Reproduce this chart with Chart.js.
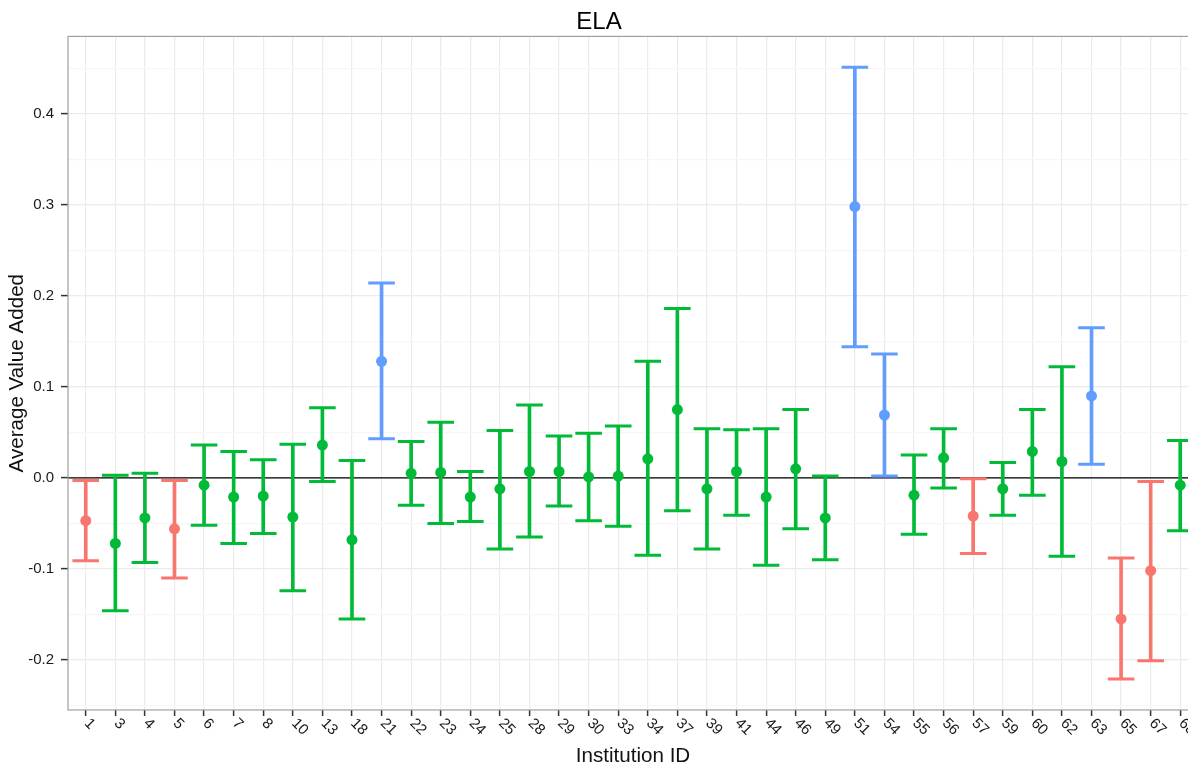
<!DOCTYPE html>
<html>
<head>
<meta charset="utf-8">
<title>ELA</title>
<script src="https://cdn.jsdelivr.net/npm/chart.js@4/dist/chart.umd.min.js"></script>
<style>
  html, body { margin: 0; padding: 0; background: #ffffff; overflow: hidden; }
  #wrap { position: relative; width: 1266px; height: 767px; }
</style>
</head>
<body>
<div id="wrap"><canvas id="c"></canvas></div>
<script>
// Institutions and their estimated value added with interval bounds
const institutionIds = ['1','3','4','5','6','7','8','10','13','18','21','22','23','24','25','28','29','30','33','34',
                        '37','39','41','44','46','49','51','54','55','56','57','59','60','62','63','65','67','68'];
const estimate   = [-0.047,-0.072,-0.044,-0.056,-0.008,-0.021,-0.020,-0.043, 0.036,-0.068,
                     0.128, 0.005, 0.006,-0.021,-0.012, 0.007, 0.007, 0.001, 0.002, 0.021,
                     0.075,-0.012, 0.007,-0.021, 0.010,-0.044, 0.298, 0.069,-0.019, 0.022,
                    -0.042,-0.012, 0.029, 0.018, 0.090,-0.155,-0.102,-0.008];
const lowerBound = [-0.091,-0.146,-0.093,-0.110,-0.052,-0.072,-0.061,-0.124,-0.004,-0.155,
                     0.043,-0.030,-0.050,-0.048,-0.078,-0.065,-0.031,-0.047,-0.053,-0.085,
                    -0.036,-0.078,-0.041,-0.096,-0.056,-0.090, 0.144, 0.002,-0.062,-0.011,
                    -0.083,-0.041,-0.019,-0.086, 0.015,-0.221,-0.201,-0.058];
const upperBound = [-0.003, 0.003, 0.005,-0.003, 0.036, 0.029, 0.020, 0.037, 0.077, 0.019,
                     0.214, 0.040, 0.061, 0.007, 0.052, 0.080, 0.046, 0.049, 0.057, 0.128,
                     0.186, 0.054, 0.053, 0.054, 0.075, 0.002, 0.451, 0.136, 0.025, 0.054,
                    -0.001, 0.017, 0.075, 0.122, 0.165,-0.088,-0.004, 0.041];
const yMajorTicks = [-0.2, -0.1, 0.0, 0.1, 0.2, 0.3, 0.4];
const yMinorTicks = [-0.25, -0.15, -0.05, 0.05, 0.15, 0.25, 0.35, 0.45];

// Below zero = red, above zero = blue, interval spanning zero = green
const RED = '#F8766D', GREEN = '#00BA38', BLUE = '#619CFF';
const pointColor = estimate.map((_, i) =>
  upperBound[i] < 0 ? RED : (lowerBound[i] > 0 ? BLUE : GREEN));

const idx = institutionIds.map((_, i) => i);
const FONT = "'Liberation Sans', Arial, Helvetica, sans-serif";
const isMajor = v => Math.abs(v * 10 - Math.round(v * 10)) < 1e-6;

// Panel frame and slanted institution labels under the x axis
const panelDecor = {
  id: 'panelDecor',
  afterDraw(chart) {
    const { ctx, chartArea: a, scales: { x } } = chart;
    ctx.save();
    ctx.strokeStyle = '#a0a0a0';
    ctx.lineWidth = 1.2;
    ctx.strokeRect(a.left, a.top, a.right - a.left, a.bottom - a.top);
    ctx.fillStyle = '#1a1a1a';
    ctx.font = '15px ' + FONT;
    ctx.textAlign = 'left';
    ctx.textBaseline = 'middle';
    institutionIds.forEach((lab, i) => {
      const px = x.getPixelForValue(i);
      ctx.save();
      ctx.translate(px + 1, a.bottom + 11);
      ctx.rotate(Math.PI / 4);
      ctx.fillText(lab, 0, 0);
      ctx.restore();
    });
    ctx.restore();
  }
};

new Chart(document.getElementById('c'), {
  type: 'scatter',
  data: {
    datasets: [
      { // reference line at zero
        type: 'line',
        data: [{ x: -0.6, y: 0 }, { x: 37.6, y: 0 }],
        borderColor: '#000000', borderWidth: 1.3, pointRadius: 0, order: 10
      },
      { // interval stems
        type: 'bar',
        data: idx.map(i => ({ x: i, y: [lowerBound[i], upperBound[i]] })),
        backgroundColor: pointColor, barThickness: 3, borderWidth: 0, order: 3
      },
      { // lower caps
        data: idx.map(i => ({ x: i, y: lowerBound[i] })),
        pointStyle: 'line', pointRadius: 13.3, borderColor: pointColor,
        pointBorderWidth: 3, borderWidth: 3, order: 2
      },
      { // upper caps
        data: idx.map(i => ({ x: i, y: upperBound[i] })),
        pointStyle: 'line', pointRadius: 13.3, borderColor: pointColor,
        pointBorderWidth: 3, borderWidth: 3, order: 2
      },
      { // estimates
        data: idx.map(i => ({ x: i, y: estimate[i] })),
        pointStyle: 'circle', pointRadius: 5.5, backgroundColor: pointColor,
        pointBackgroundColor: pointColor, pointBorderWidth: 0, borderWidth: 0, order: 1
      }
    ]
  },
  options: {
    responsive: true,
    maintainAspectRatio: false,
    animation: false,
    events: [],
    layout: { padding: { left: 0, right: 68, top: 0, bottom: 0 } },
    plugins: {
      legend: { display: false },
      tooltip: { enabled: false },
      title: {
        display: true, text: 'ELA', color: '#000000',
        font: { family: FONT, size: 24, weight: 'normal', lineHeight: 1.2 },
        padding: { top: 7.6, bottom: 0 }
      }
    },
    scales: {
      x: {
        type: 'linear', min: -0.6, max: 37.6, bounds: 'data', offset: false,
        afterBuildTicks: s => { s.ticks = idx.map(v => ({ value: v })); },
        afterFit: s => { s.height = 57; },
        ticks: { display: false },
        grid: { offset: false, color: '#EBEBEB', lineWidth: 1.2, tickColor: '#333333', tickWidth: 1.5, tickLength: 6, drawTicks: true },
        border: { display: false },
        title: {
          display: true, text: 'Institution ID', color: '#111111',
          font: { family: FONT, size: 20.6, lineHeight: 1 }, padding: { top: 0, bottom: 0 }
        }
      },
      y: {
        type: 'linear', min: -0.255, max: 0.485, bounds: 'data',
        afterBuildTicks: s => {
          s.ticks = yMinorTicks.concat(yMajorTicks).sort((a, b) => a - b).map(v => ({ value: v }));
        },
        afterFit: s => { s.width = 68; },
        ticks: {
          color: '#1a1a1a', font: { family: FONT, size: 15 }, padding: 7, autoSkip: false,
          callback: v => isMajor(v) ? v.toFixed(1) : ''
        },
        grid: {
          color: c => isMajor(c.tick.value) ? '#EBEBEB' : '#F6F6F6',
          tickColor: c => isMajor(c.tick.value) ? '#333333' : 'rgba(0,0,0,0)',
          lineWidth: 1.2, tickWidth: 1.5, tickLength: 7
        },
        border: { display: false },
        title: {
          display: true, text: 'Average Value Added', color: '#111111',
          font: { family: FONT, size: 20.6, lineHeight: 1 }, padding: { top: 7, bottom: 0 }
        }
      }
    }
  },
  plugins: [panelDecor]
});
</script>
</body>
</html>
